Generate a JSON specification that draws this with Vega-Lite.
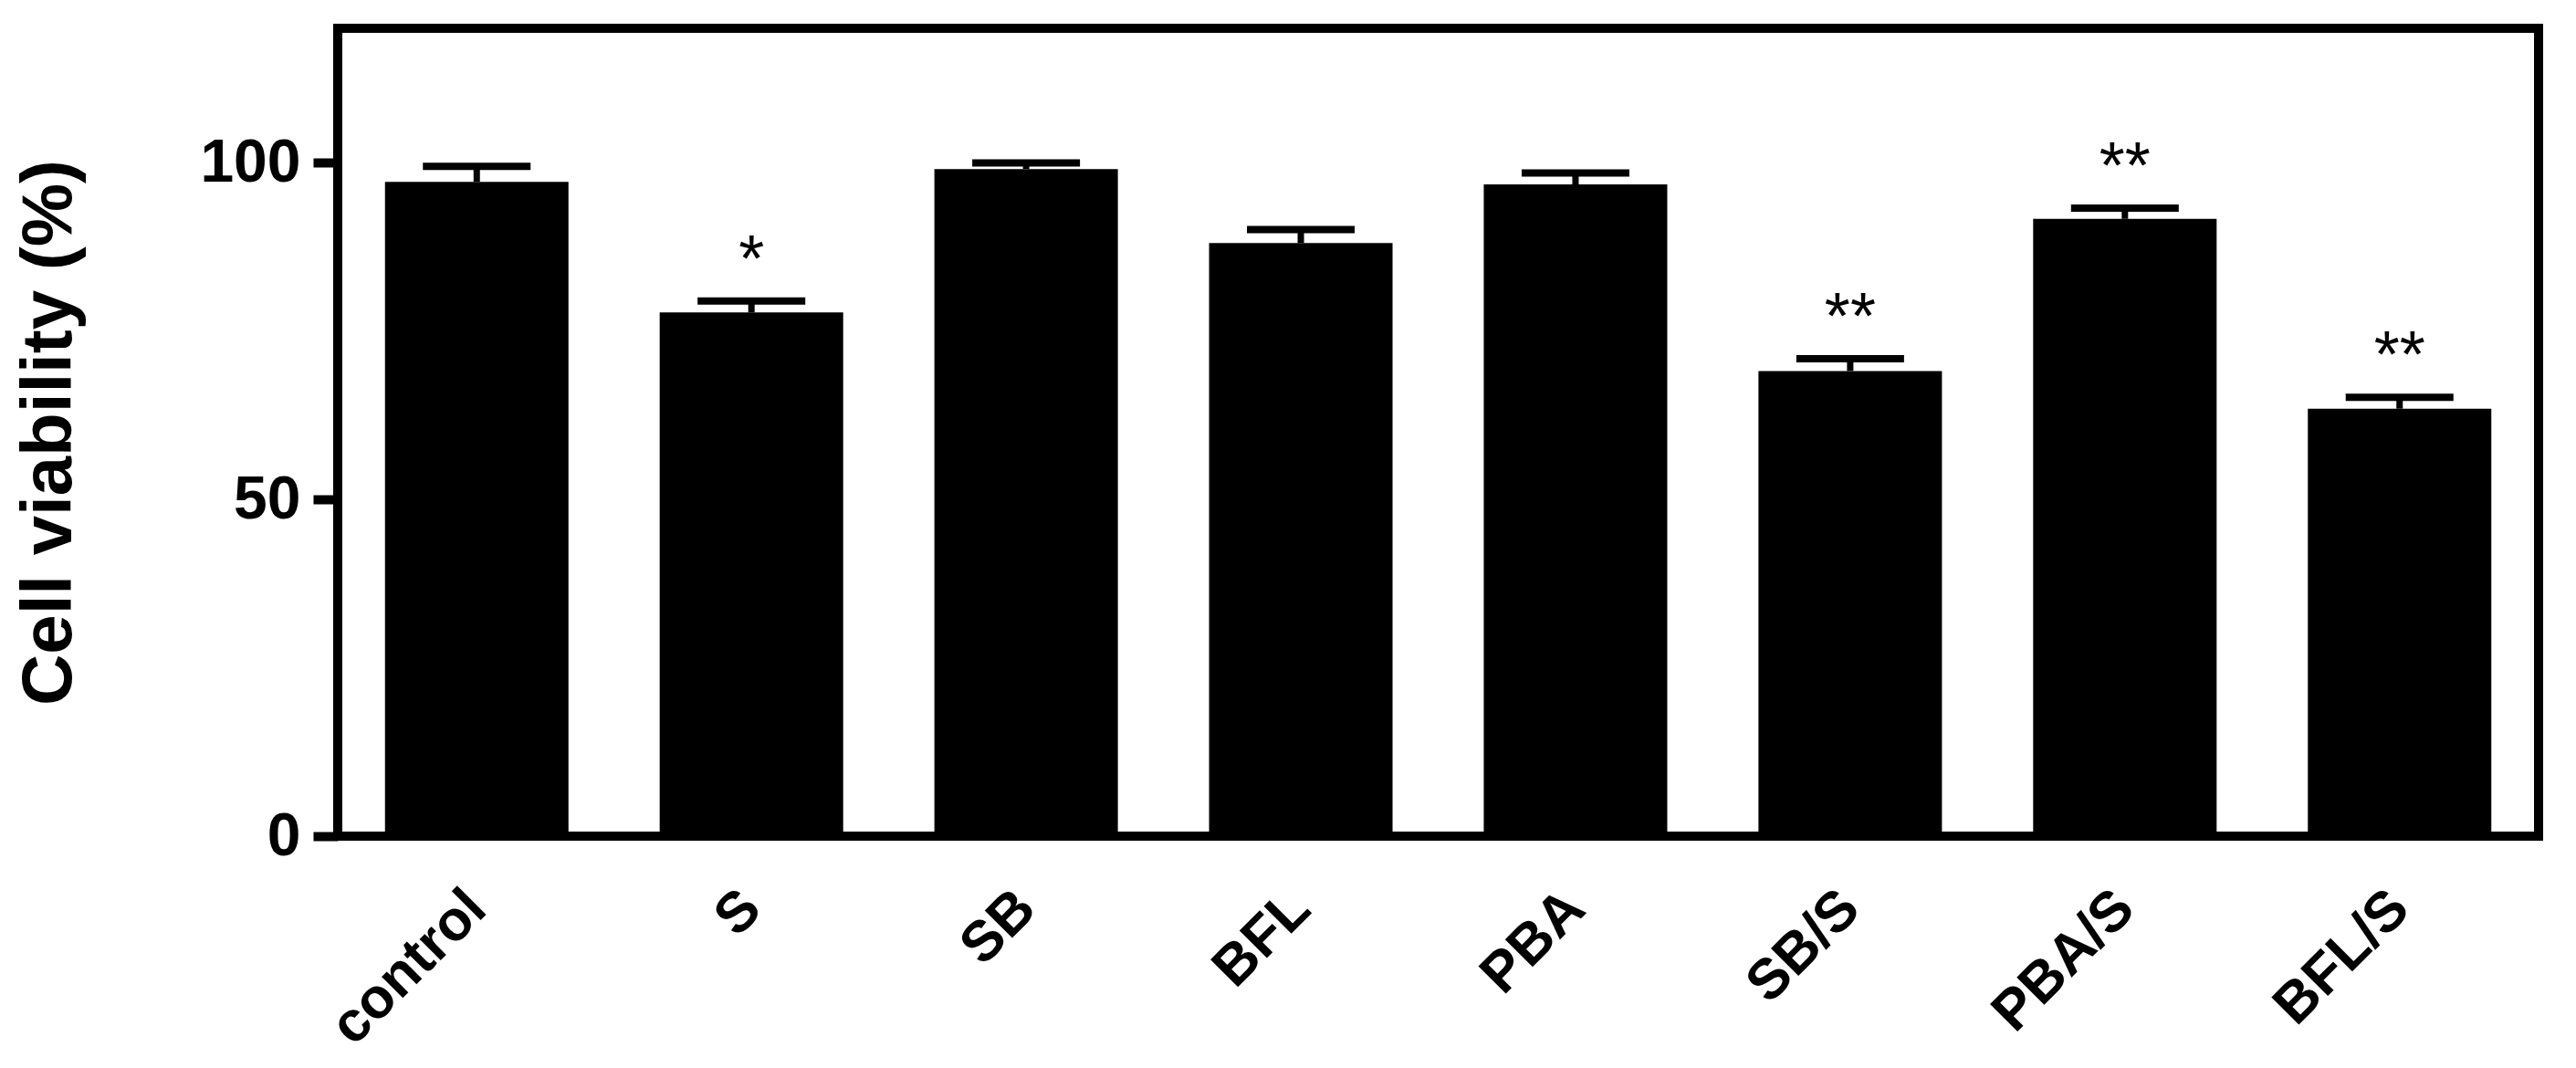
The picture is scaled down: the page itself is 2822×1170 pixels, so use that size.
{
  "$schema": "https://vega.github.io/schema/vega-lite/v6.json",
  "autosize": {"type": "none"},
  "padding": {"left": 370, "top": 31, "right": 41, "bottom": 254},
  "width": 2411,
  "height": 885,
  "background": "white",
  "config": {"view": {"stroke": "black", "strokeWidth": 10}, "font": "Liberation Sans"},
  "data": {"values": [
    {"group": "control", "mean": 97.2, "upper": 99.5, "sig": ""},
    {"group": "S", "mean": 77.8, "upper": 79.5, "sig": "*"},
    {"group": "SB", "mean": 99.1, "upper": 100.0, "sig": ""},
    {"group": "BFL", "mean": 88.1, "upper": 90.1, "sig": ""},
    {"group": "PBA", "mean": 96.8, "upper": 98.5, "sig": ""},
    {"group": "SB/S", "mean": 69.1, "upper": 70.9, "sig": "**"},
    {"group": "PBA/S", "mean": 91.7, "upper": 93.3, "sig": "**"},
    {"group": "BFL/S", "mean": 63.5, "upper": 65.2, "sig": "**"}
  ]},
  "encoding": {
    "x": {
      "field": "group", "type": "nominal", "sort": null,
      "scale": {"paddingInner": 0.332, "paddingOuter": 0.172},
      "axis": {
        "title": null, "labelAngle": -45, "labelFontSize": 62, "labelFontWeight": "bold",
        "labelColor": "black", "ticks": false, "tickSize": 0, "domain": false, "labelPadding": 69,
        "labelAlign": "right", "labelBaseline": "middle", "labelLimit": 0
      }
    }
  },
  "layer": [
    {
      "mark": {"type": "bar", "color": "black"},
      "encoding": {
        "y": {
          "field": "mean", "type": "quantitative",
          "scale": {"domain": [0, 120], "nice": false},
          "axis": {
            "values": [0, 50, 100], "title": "Cell viability (%)", "titleFontSize": 78,
            "titleFontWeight": "bold", "titleColor": "black", "titlePadding": 125,
            "labelFontSize": 66, "labelFontWeight": "bold", "labelColor": "black",
            "labelPadding": 14, "tickSize": 27, "tickWidth": 10, "tickColor": "black",
            "domain": false, "grid": false
          }
        }
      }
    },
    {
      "mark": {"type": "rule", "color": "black", "strokeWidth": 7},
      "encoding": {
        "y": {"field": "mean", "type": "quantitative"},
        "y2": {"field": "upper"}
      }
    },
    {
      "mark": {"type": "tick", "color": "black", "opacity": 1, "size": 118, "thickness": 8},
      "encoding": {"y": {"field": "upper", "type": "quantitative"}}
    },
    {
      "mark": {"type": "text", "fontSize": 72, "dy": -22, "baseline": "alphabetic", "color": "black"},
      "encoding": {
        "y": {"field": "upper", "type": "quantitative"},
        "text": {"field": "sig"}
      }
    }
  ]
}
